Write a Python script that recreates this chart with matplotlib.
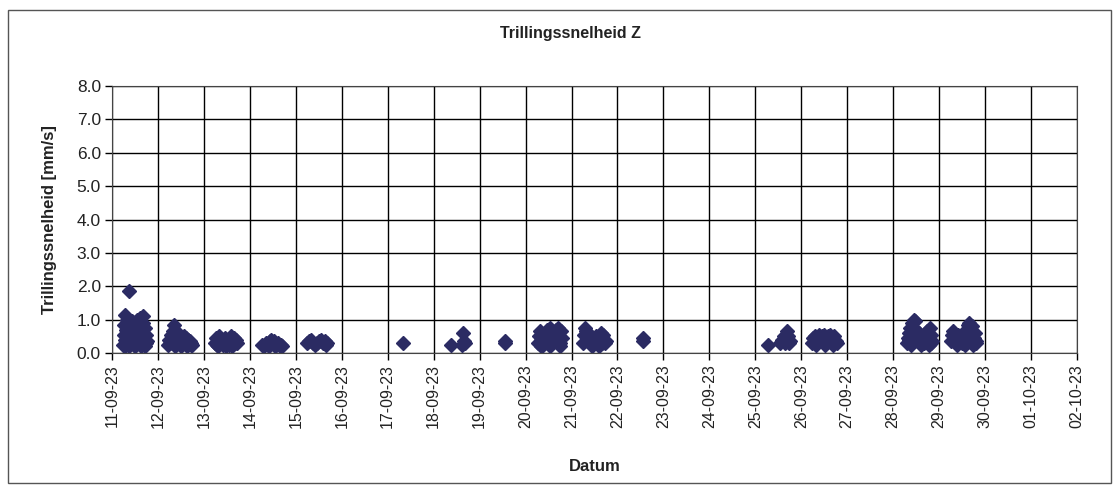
import pandas as pd
import matplotlib
matplotlib.use('Agg')
import matplotlib.pyplot as plt
import matplotlib.dates as mdates
from matplotlib.patches import Rectangle

plt.rcParams['font.family'] = ['Liberation Sans', 'DejaVu Sans']

# metingen per dag: uur van de dag en trillingssnelheid [mm/s]
d11_h = [6.0, 6.2, 6.5, 6.8, 7.0, 7.3, 7.6, 8.0, 8.2, 8.5, 9.0, 9.4, 10.0, 10.5, 11.0, 11.5, 12.0, 12.5,
         13.0, 13.5, 14.0, 14.5, 15.0, 15.5, 16.0, 16.4, 16.8, 17.2, 17.6, 18.0, 18.4, 7.0, 9.0, 12.0, 15.0, 17.0, 8.9]
d11_v = [0.25, 0.55, 0.85, 1.15, 0.4, 0.7, 1.0, 0.3, 0.6, 0.9, 0.45, 0.75, 0.3, 0.95, 0.55, 0.25, 0.8, 0.45,
         1.0, 0.35, 0.65, 1.05, 0.3, 0.6, 0.9, 1.1, 0.4, 0.75, 0.3, 0.55, 0.35, 0.2, 0.2, 0.2, 0.2, 0.2, 1.85]
d12_h = [5.5, 6.0, 6.5, 7.0, 7.5, 8.0, 8.4, 8.8, 9.2, 9.6, 10.0, 10.5, 11.0, 11.5, 12.0, 12.5, 13.0, 13.5,
         14.0, 14.5, 15.0, 15.5, 16.0, 16.5, 17.0, 17.5, 18.0, 9.0, 12.0, 15.0]
d12_v = [0.25, 0.4, 0.3, 0.55, 0.35, 0.65, 0.85, 0.7, 0.45, 0.6, 0.3, 0.55, 0.4, 0.5, 0.25, 0.45, 0.35, 0.5,
         0.3, 0.45, 0.25, 0.4, 0.3, 0.35, 0.25, 0.3, 0.25, 0.2, 0.2, 0.2]
d13_h = [6.0, 6.5, 7.0, 8.0, 8.5, 9.5, 10.0, 11.0, 12.0, 12.5, 13.0, 14.0, 15.0, 15.5, 16.0, 17.0, 17.5, 7.5, 11.5, 14.5]
d13_v = [0.3, 0.45, 0.25, 0.5, 0.35, 0.4, 0.25, 0.45, 0.3, 0.4, 0.25, 0.5, 0.35, 0.45, 0.3, 0.4, 0.3, 0.2, 0.2, 0.2]
d14_h = [6.5, 7.5, 8.5, 9.5, 10.5, 11.0, 11.5, 12.5, 13.5, 14.5, 15.5, 16.5, 17.0, 10.0, 13.0]
d14_v = [0.25, 0.2, 0.3, 0.25, 0.35, 0.4, 0.3, 0.35, 0.25, 0.3, 0.2, 0.25, 0.2, 0.2, 0.2]
d15_h = [6.0, 7.0, 8.0, 9.0, 10.0, 11.0, 12.0, 13.0, 14.0, 15.0, 16.0, 16.5]
d15_v = [0.3, 0.35, 0.4, 0.3, 0.25, 0.3, 0.35, 0.4, 0.3, 0.35, 0.25, 0.3]
d17_h = [8.0]
d17_v = [0.3]
d18_h = [9.1, 15.4, 15.8, 15.0, 16.5]
d18_v = [0.25, 0.6, 0.35, 0.25, 0.3]
d19_h = [13.2, 13.5]
d19_v = [0.35, 0.3]
d20_h = [6.5, 7.0, 7.5, 8.0, 8.5, 9.0, 10.0, 10.5, 11.0, 12.0, 12.5, 13.0, 14.0, 14.5, 15.0, 16.0, 16.5,
         17.0, 17.5, 18.0, 18.5, 19.0, 8.0, 13.0, 18.0]
d20_v = [0.3, 0.5, 0.65, 0.4, 0.55, 0.25, 0.6, 0.4, 0.7, 0.35, 0.55, 0.75, 0.3, 0.6, 0.45, 0.7, 0.35,
         0.75, 0.5, 0.3, 0.65, 0.45, 0.2, 0.2, 0.2]
d21_h = [6.0, 6.5, 7.0, 7.5, 8.0, 9.0, 9.5, 10.0, 11.0, 12.0, 12.5, 13.0, 14.0, 15.0, 15.5, 16.0, 16.5,
         17.0, 17.5, 18.0, 10.5, 14.5]
d21_v = [0.3, 0.55, 0.75, 0.65, 0.4, 0.55, 0.3, 0.5, 0.35, 0.45, 0.3, 0.5, 0.35, 0.45, 0.6, 0.3, 0.55,
         0.4, 0.3, 0.35, 0.2, 0.2]
d22_h = [13.2, 13.3]
d22_v = [0.45, 0.35]
d25_h = [6.5, 13.0, 14.0, 15.0, 16.0, 16.5, 17.0, 18.0, 15.5, 17.5]
d25_v = [0.25, 0.3, 0.4, 0.5, 0.55, 0.65, 0.5, 0.35, 0.3, 0.3]
d26_h = [5.5, 6.0, 7.0, 8.0, 9.0, 10.0, 11.0, 12.0, 13.0, 14.0, 15.0, 16.0, 17.0, 18.0, 18.5, 7.5, 12.5, 16.5]
d26_v = [0.3, 0.45, 0.5, 0.35, 0.55, 0.4, 0.5, 0.55, 0.35, 0.5, 0.55, 0.4, 0.5, 0.35, 0.3, 0.25, 0.25, 0.25]
d28_h = [7.0, 7.5, 8.0, 8.5, 9.0, 10.0, 10.5, 11.0, 11.5, 12.0, 13.0, 13.5, 14.0, 15.0, 16.0, 17.0, 17.5,
         18.0, 19.0, 19.5, 20.0, 20.5, 9.5, 14.5, 18.5]
d28_v = [0.3, 0.45, 0.6, 0.4, 0.75, 0.9, 0.55, 1.0, 0.95, 0.7, 0.4, 0.6, 0.35, 0.5, 0.3, 0.45, 0.65,
         0.4, 0.75, 0.55, 0.3, 0.35, 0.25, 0.25, 0.25]
d29_h = [6.0, 6.5, 7.0, 8.0, 8.5, 9.0, 10.0, 11.0, 12.0, 12.5, 13.0, 14.0, 14.5, 15.0, 15.5, 16.0, 16.5,
         17.0, 18.0, 18.5, 19.0, 19.5, 9.5, 13.5, 17.5]
d29_v = [0.35, 0.55, 0.65, 0.4, 0.5, 0.3, 0.55, 0.45, 0.3, 0.6, 0.4, 0.65, 0.5, 0.85, 0.9, 0.7, 0.55,
         0.8, 0.45, 0.6, 0.35, 0.3, 0.25, 0.25, 0.25]

dagen = {'2023-09-11': (d11_h, d11_v), '2023-09-12': (d12_h, d12_v), '2023-09-13': (d13_h, d13_v),
         '2023-09-14': (d14_h, d14_v), '2023-09-15': (d15_h, d15_v), '2023-09-17': (d17_h, d17_v),
         '2023-09-18': (d18_h, d18_v), '2023-09-19': (d19_h, d19_v), '2023-09-20': (d20_h, d20_v),
         '2023-09-21': (d21_h, d21_v), '2023-09-22': (d22_h, d22_v), '2023-09-25': (d25_h, d25_v),
         '2023-09-26': (d26_h, d26_v), '2023-09-28': (d28_h, d28_v), '2023-09-29': (d29_h, d29_v)}

rows = []
for dag, (uren, waarden) in dagen.items():
    for u, w in zip(uren, waarden):
        rows.append((pd.Timestamp(dag) + pd.Timedelta(hours=u), w))
df = pd.DataFrame(rows, columns=['tijd', 'v'])

fig = plt.figure(figsize=(11.2, 4.87), dpi=100)
ax = fig.add_axes([0.1, 0.2752, 0.8616, 0.548])

ax.plot(df['tijd'], df['v'], linestyle='none', marker='D', ms=7, color='#2b2b63', clip_on=False)

ax.set_xlim(pd.Timestamp('2023-09-11'), pd.Timestamp('2023-10-02'))
ax.set_ylim(0, 8)
ax.set_yticks([0, 1, 2, 3, 4, 5, 6, 7, 8])
ax.set_yticklabels(['%.1f' % t for t in range(9)], fontsize=12.5, color='#222222')
ax.xaxis.set_major_locator(mdates.DayLocator())
ax.xaxis.set_major_formatter(mdates.DateFormatter('%d-%m-%y'))
plt.setp(ax.get_xticklabels(), rotation=90, fontsize=11.5, color='#222222')
ax.tick_params(direction='out', length=5, width=1, color='black', pad=3)
ax.grid(True, color='black', linewidth=1)
ax.set_axisbelow(True)
for s in ax.spines.values():
    s.set_color('#444444')

# titel staat in het midden van de hele grafiek, niet boven het plotvlak
fig.text(571 / 1120, 1 - 33 / 487, 'Trillingssnelheid Z', fontsize=11.5, fontweight='bold',
         ha='center', va='center', color='#222222')
ax.set_ylabel('Trillingssnelheid [mm/s]', fontsize=12, fontweight='bold', labelpad=14, color='#222222')
ax.set_xlabel('Datum', fontsize=12, fontweight='bold', labelpad=22, color='#222222')

fig.patches.append(Rectangle((8 / 1120, 1 - 483 / 487), 1103 / 1120, 473 / 487,
                             transform=fig.transFigure, fill=False, edgecolor='#555555', linewidth=1))

plt.savefig('out.png', dpi=100)
